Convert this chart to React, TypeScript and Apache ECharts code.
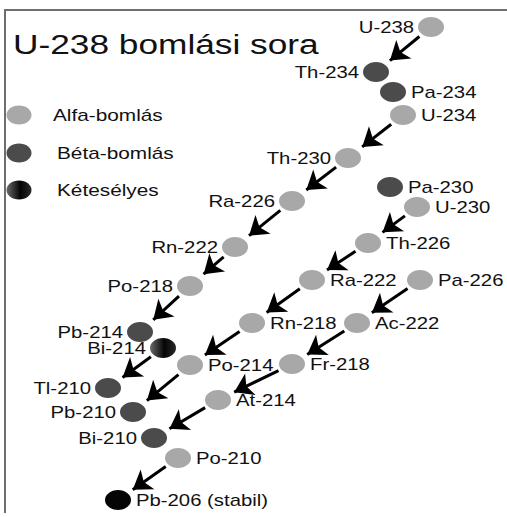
import React, { useEffect, useRef } from "react";
import * as echarts from "echarts";

const TITLE = "U-238 bomlási sora";
const LEGEND_LABELS = ["Alfa-bomlás", "Béta-bomlás", "Kétesélyes"];

// nuclide nodes (diagram coordinates), decay kind and label side
const NAMES = [
  "U-238", "Th-234", "Pa-234", "U-234", "Th-230", "Ra-226", "Pa-230", "U-230",
  "Rn-222", "Th-226", "Po-218", "Ra-222", "Pa-226", "Rn-218", "Ac-222", "Pb-214",
  "Bi-214", "Po-214", "Fr-218", "Tl-210", "Pb-210", "At-214", "Bi-210", "Po-210",
  "Pb-206 (stabil)",
];
const X = [431, 376, 393, 403, 348, 292, 390, 417, 235, 368, 190, 312, 420, 252, 357, 140, 163, 190, 292, 108, 133, 218, 154, 178, 118];
const Y = [27, 72, 92, 115, 158, 201, 187, 207, 247, 243, 286, 280, 280, 323, 323, 332, 348, 365, 364, 388, 412, 400, 438, 458, 500];
// a = alfa, b = béta, k = kétesélyes, s = stabil
const KIND = ["a", "b", "b", "a", "a", "a", "b", "a", "a", "a", "a", "a", "a", "a", "a", "b", "k", "a", "a", "b", "b", "a", "b", "a", "s"];
const SIDE = ["L", "L", "R", "R", "L", "L", "R", "R", "L", "R", "L", "R", "R", "R", "R", "L", "L", "R", "R", "L", "L", "R", "L", "R", "R"];

// alpha decay arrows: [from, to]
const ARROWS: [string, string][] = [
  ["U-238", "Th-234"], ["U-234", "Th-230"], ["Th-230", "Ra-226"], ["Ra-226", "Rn-222"],
  ["Rn-222", "Po-218"], ["Po-218", "Pb-214"], ["Bi-214", "Tl-210"], ["Po-214", "Pb-210"],
  ["At-214", "Bi-210"], ["Po-210", "Pb-206 (stabil)"], ["U-230", "Th-226"], ["Th-226", "Ra-222"],
  ["Ra-222", "Rn-218"], ["Rn-218", "Po-214"], ["Pa-226", "Ac-222"], ["Ac-222", "Fr-218"],
  ["Fr-218", "At-214"],
];

const SX = 1.27;
const FONT = "16px 'Liberation Sans', Arial, sans-serif";
const ALPHA = "#a8a8a8";
const BETA = "#4b4b4b";
const mix = () =>
  new echarts.graphic.LinearGradient(0, 0, 1, 0, [
    { offset: 0, color: "#6a6a6a" },
    { offset: 0.55, color: "#050505" },
    { offset: 1, color: "#2a2a2a" },
  ]);
const fillFor = (k: string) => (k === "a" ? ALPHA : k === "b" ? BETA : k === "k" ? mix() : "#050505");

export default function App() {
  const ref = useRef<HTMLDivElement>(null);
  useEffect(() => {
    if (!ref.current) return;
    const chart = echarts.init(ref.current, null, { renderer: "svg" });
    const idx = (n: string) => NAMES.indexOf(n);
    const arrowData = ARROWS.map(([f, t]) => {
      const a = idx(f), b = idx(t);
      const dx = X[b] - X[a], dy = Y[b] - Y[a];
      const len = Math.sqrt(dx * dx + dy * dy);
      const ux = dx / len, uy = dy / len;
      const s0 = 15, s1 = 18;
      return {
        coords: [
          [X[a] + ux * s0, Y[a] + uy * s0],
          [X[b] - ux * s1, Y[b] - uy * s1],
        ],
      };
    });
    const legendY = [115, 153, 190];
    const legendTextX = [53, 57, 57];
    const legendKinds = ["a", "b", "k"];
    const graphic: any[] = [
      { type: "line", shape: { x1: 4, y1: 10, x2: 507, y2: 10 }, style: { stroke: "#6e6e6e", lineWidth: 2 } },
      { type: "line", shape: { x1: 5, y1: 10, x2: 5, y2: 513 }, style: { stroke: "#6e6e6e", lineWidth: 2 } },
      {
        type: "text", x: 13, y: 44, scaleX: 1.26,
        style: { text: TITLE, font: "28px 'Liberation Sans', Arial, sans-serif", fill: "#111", verticalAlign: "middle", textVerticalAlign: "middle" },
      },
    ];
    LEGEND_LABELS.forEach((lab, i) => {
      graphic.push({ type: "ellipse", shape: { cx: 19, cy: legendY[i], rx: 12.5, ry: 9.5 }, style: { fill: fillFor(legendKinds[i]) } });
      graphic.push({
        type: "text", x: legendTextX[i], y: legendY[i], scaleX: 1.3,
        style: { text: lab, font: FONT, fill: "#111", verticalAlign: "middle", textVerticalAlign: "middle" },
      });
    });
    chart.setOption({
      animation: false,
      grid: { left: 0, right: 0, top: 0, bottom: 0 },
      xAxis: { type: "value", min: 0, max: 507, show: false },
      yAxis: { type: "value", min: 0, max: 517, inverse: true, show: false },
      graphic,
      series: [
        {
          type: "lines",
          coordinateSystem: "cartesian2d",
          data: arrowData,
          symbol: ["none", "arrow"],
          symbolSize: 18,
          lineStyle: { color: "#000", width: 3, opacity: 1 },
          silent: true,
        },
        {
          type: "custom",
          data: NAMES.map((n, i) => [X[i], Y[i], i]),
          encode: { x: 0, y: 1 },
          renderItem: (params: any, api: any) => {
            const i = api.value(2);
            const p = api.coord([api.value(0), api.value(1)]);
            const left = SIDE[i] === "L";
            return {
              type: "group",
              children: [
                { type: "ellipse", shape: { cx: p[0], cy: p[1], rx: 13, ry: 10 }, style: { fill: fillFor(KIND[i]) } },
                {
                  type: "text",
                  x: p[0] + (left ? -17 : 18),
                  y: p[1],
                  scaleX: SX,
                  style: {
                    text: NAMES[i], font: FONT, fill: "#111",
                    align: left ? "right" : "left", textAlign: left ? "right" : "left",
                    verticalAlign: "middle", textVerticalAlign: "middle",
                  },
                },
              ],
            };
          },
        },
      ],
    });
    return () => chart.dispose();
  }, []);
  return <div ref={ref} style={{ position: "fixed", left: 0, top: 0, width: 507, height: 517, background: "#fff" }} />;
}
